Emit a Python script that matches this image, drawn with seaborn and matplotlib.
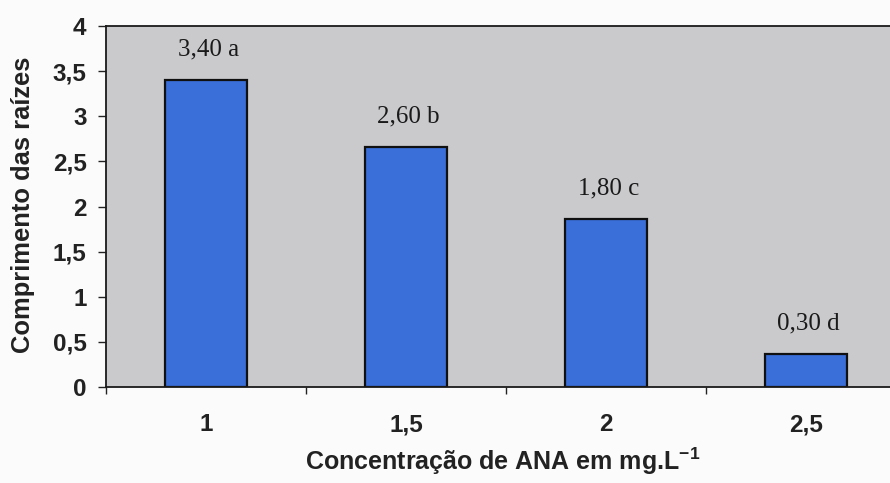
import matplotlib
matplotlib.use("Agg")
import matplotlib.pyplot as plt
import seaborn as sns
import pandas as pd
from matplotlib.ticker import FixedLocator, FuncFormatter

categories = ["1", "1,5", "2", "2,5"]
heights = [3.40, 2.66, 1.86, 0.37]
bar_labels = ["3,40 a", "2,60 b", "1,80 c", "0,30 d"]
y_ticks = [0, 0.5, 1, 1.5, 2, 2.5, 3, 3.5, 4]

df = pd.DataFrame({"conc": categories, "comp": heights})

sns.set_theme(style="white")
plt.rcParams["font.family"] = ["Liberation Sans", "DejaVu Sans"]
plt.rcParams["mathtext.fontset"] = "custom"
plt.rcParams["mathtext.bf"] = "Liberation Sans:bold"
plt.rcParams["mathtext.rm"] = "Liberation Sans"

W, H = 890, 483
fig = plt.figure(figsize=(W / 100, H / 100), dpi=100)
fig.patch.set_facecolor("#fbfbfb")
ax = fig.add_axes([106 / W, (H - 387) / H, 800 / W, 361 / H])
ax.set_facecolor("#cacacd")

sns.barplot(data=df, x="conc", y="comp", order=categories, color="#3a6ed8",
            width=0.41, edgecolor="#101010", linewidth=1.6, saturation=1, ax=ax)

ax.set_xlim(-0.5, 3.5)
ax.set_ylim(0, 4)

for i, (h, lab) in enumerate(zip(heights, bar_labels)):
    ax.annotate(lab, (i, h), xytext=(2, 22), textcoords="offset points",
                ha="center", va="center", fontsize=18,
                family=["Liberation Serif", "DejaVu Serif"], color="#1a1a1a")

# y axis
ax.yaxis.set_major_locator(FixedLocator(y_ticks))
ax.yaxis.set_major_formatter(FuncFormatter(lambda v, p: (f"{v:g}").replace(".", ",")))
ax.tick_params(axis="y", which="major", direction="out", length=6, width=1,
               color="#222222", labelsize=17.5, pad=8, left=True)
for t in ax.get_yticklabels():
    t.set_fontweight("bold")
    t.set_color("#222222")

# x axis: ticks at category boundaries, labels at centers
ax.xaxis.set_major_locator(FixedLocator([-0.5, 0.5, 1.5, 2.5, 3.5]))
ax.xaxis.set_major_formatter(FuncFormatter(lambda v, p: ""))
ax.xaxis.set_minor_locator(FixedLocator(range(len(categories))))
ax.xaxis.set_minor_formatter(FuncFormatter(lambda v, p: categories[int(round(v))]))
ax.tick_params(axis="x", which="major", direction="out", length=5, width=1,
               color="#222222", bottom=True)
ax.tick_params(axis="x", which="minor", length=0, labelsize=17.5, pad=19, bottom=True)
for t in ax.xaxis.get_minorticklabels():
    t.set_fontweight("bold")
    t.set_color("#222222")

for s in ["left", "bottom", "top"]:
    ax.spines[s].set_visible(True)
    ax.spines[s].set_color("#1a1a1a")
    ax.spines[s].set_linewidth(1.3)
ax.spines["right"].set_visible(False)

ax.set_xlabel("Concentração de ANA em mg.L$^{\\mathbf{-1}}$", fontsize=18,
              fontweight="bold", color="#222222")
ax.xaxis.set_label_coords(397 / 800, (387 - 446) / 361)
ax.set_ylabel("Comprimento das raízes", fontsize=18.4, fontweight="bold",
              color="#222222")
ax.yaxis.set_label_coords((35 - 106) / 800, (387 - 205) / 361)

fig.savefig("out.png", dpi=100, facecolor=fig.get_facecolor())
